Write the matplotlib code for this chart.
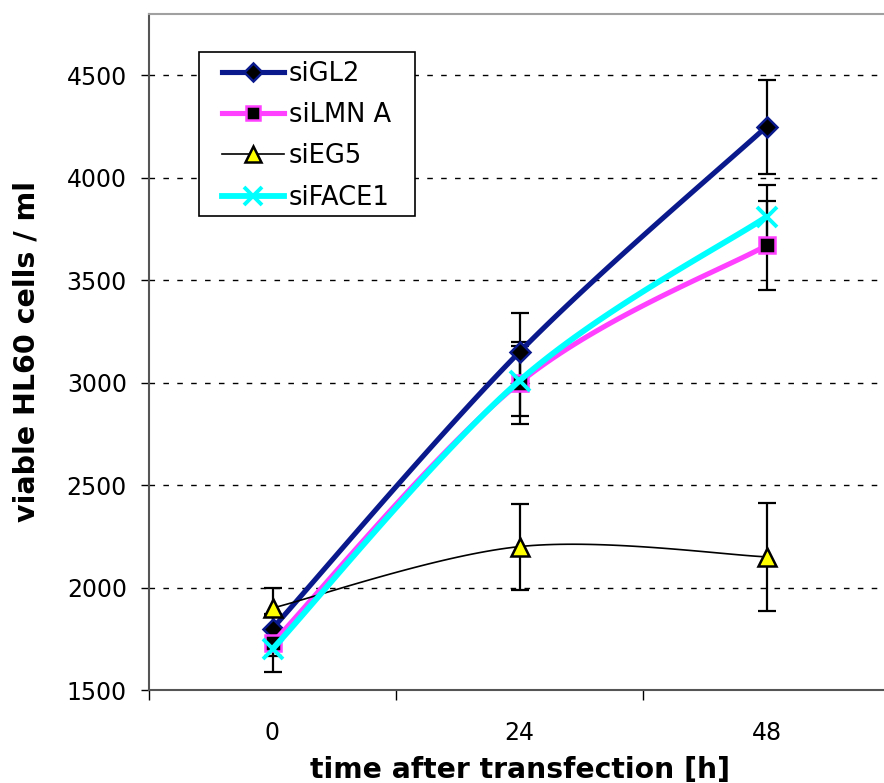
import numpy as np
import matplotlib
matplotlib.use("Agg")
import matplotlib.pyplot as plt
from matplotlib.patches import Rectangle
from matplotlib.ticker import FixedLocator, NullFormatter

# data
hours = ["0", "24", "48"]
gl2 = [1800, 3150, 4250]
gl2_err = [60, 190, 230]
lmn = [1730, 3000, 3670]
lmn_err = [140, 200, 215]
eg5 = [1900, 2200, 2150]
eg5_err = [100, 210, 265]
face1 = [1700, 3010, 3810]
face1_err = [35, 170, 155]


def smooth(y, n=40, k=1 / 6):
    # Excel-style smoothed line (Catmull-Rom bezier, endpoints duplicated)
    x = np.arange(len(y), dtype=float)
    y = np.asarray(y, dtype=float)
    xp = np.concatenate([[x[0]], x, [x[-1]]])
    yp = np.concatenate([[y[0]], y, [y[-1]]])
    xs, ys = [], []
    t = np.linspace(0, 1, n)
    for i in range(len(x) - 1):
        p0x, p1x, p2x, p3x = xp[i:i + 4]
        p0y, p1y, p2y, p3y = yp[i:i + 4]
        c1x, c1y = p1x + (p2x - p0x) * k, p1y + (p2y - p0y) * k
        c2x, c2y = p2x - (p3x - p1x) * k, p2y - (p3y - p1y) * k
        bx = (1-t)**3*p1x + 3*(1-t)**2*t*c1x + 3*(1-t)*t**2*c2x + t**3*p2x
        by = (1-t)**3*p1y + 3*(1-t)**2*t*c1y + 3*(1-t)*t**2*c2y + t**3*p2y
        xs.extend(bx)
        ys.extend(by)
    return np.array(xs), np.array(ys)


plt.rcParams["font.family"] = "DejaVu Sans"

fig = plt.figure(figsize=(8.84, 7.83), dpi=100)
ax = fig.add_axes([149 / 884, 93 / 783, 741 / 884, 676 / 783])

x = np.arange(len(hours))
series = [
    ("siGL2", gl2, gl2_err, "#0A1A8C", 3.7, "D", "black", "#0A1A8C", 10.5),
    ("siLMN A", lmn, lmn_err, "#FF40FF", 3.7, "s", "black", "#FF40FF", 11),
    ("siEG5", eg5, eg5_err, "black", 1.2, "^", "#FFFF00", "black", 13),
    ("siFACE1", face1, face1_err, "#00FFFF", 4.2, "x", "#00FFFF", "#00FFFF", 15),
]

# error bars first
for name, y, err, col, lw, mk, fc, ec, ms in series:
    ax.errorbar(x, y, yerr=err, fmt="none", ecolor="black", elinewidth=1.6,
                capsize=6.3, capthick=1.6, zorder=2)

handles = []
for i, (name, y, err, col, lw, mk, fc, ec, ms) in enumerate(series):
    sx, sy = smooth(y)
    mew = 2.8 if mk == "x" else 1.8
    ax.plot(sx, sy, color=col, lw=lw, zorder=3 + i, solid_capstyle="butt")
    ax.plot(x, y, ls="none", marker=mk, ms=ms, mfc=fc, mec=ec, mew=mew,
            zorder=3.5 + i)
    h, = ax.plot([], [], color=col, lw=lw, marker=mk, ms=ms * 0.9, mfc=fc,
                 mec=ec, mew=mew)
    handles.append((h, name))

ax.set_xlim(-0.5, 2.5)
ax.set_ylim(1500, 4800)
ax.set_yticks(np.arange(1500, 4501, 500))
ax.tick_params(axis="y", labelsize=17, length=6, width=1, direction="out", pad=10)

ax.xaxis.set_major_locator(FixedLocator([-0.5, 0.5, 1.5, 2.5]))
ax.xaxis.set_major_formatter(NullFormatter())
ax.xaxis.set_minor_locator(FixedLocator(x))
ax.set_xticklabels(hours, minor=True)
ax.tick_params(axis="x", which="major", length=7, width=1, direction="out")
ax.tick_params(axis="x", which="minor", length=0, labelsize=17, pad=22)

for yv in range(2000, 4501, 500):
    ax.axhline(yv, color="black", lw=1, ls=(0, (4, 6)), zorder=1)

for side in ["left", "bottom"]:
    ax.spines[side].set_color("#555555")
    ax.spines[side].set_linewidth(1.5)
ax.spines["top"].set_color("#A0A0A0")
ax.spines["top"].set_linewidth(1.5)
ax.spines["right"].set_visible(False)

ax.set_xlabel("time after transfection [h]", fontsize=20.3, fontweight="bold", labelpad=8)
ax.set_ylabel("viable HL60 cells / ml", fontsize=20.5, fontweight="bold", labelpad=19)

# legend box drawn separately so the side padding can be wider than top/bottom
ax.add_patch(Rectangle((0.0675, 0.7012), 0.2915, 0.2426, transform=ax.transAxes,
                       facecolor="white", edgecolor="black", lw=1.2, zorder=9))
leg = ax.legend([h for h, _ in handles], [n for _, n in handles],
                loc="upper left", bbox_to_anchor=(0.0985, 0.931),
                fontsize=18.5, frameon=False, handlelength=2.4,
                handletextpad=0.2, labelspacing=0.6, borderpad=0,
                borderaxespad=0)
leg.set_zorder(10)

fig.savefig("out.png", dpi=100)
